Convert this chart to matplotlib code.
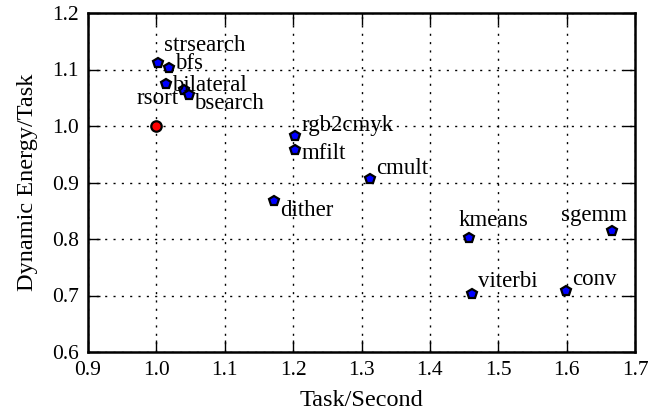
import matplotlib
matplotlib.use("Agg")
import matplotlib.pyplot as plt

plt.rcParams['font.family'] = ['Liberation Serif', 'DejaVu Serif']

# data
names = ['strsearch', 'bfs', 'bilateral', '', 'bsearch', 'rgb2cmyk', 'mfilt',
         'cmult', 'dither', 'kmeans', 'viterbi', 'conv', 'sgemm']
task_per_sec = [1.003, 1.019, 1.014, 1.040, 1.047, 1.203, 1.203,
                1.313, 1.172, 1.457, 1.461, 1.599, 1.667]
energy_per_task = [1.111, 1.102, 1.074, 1.063, 1.054, 0.982, 0.957,
                   0.907, 0.868, 0.802, 0.703, 0.708, 0.814]
base_name = 'rsort'
base_x = [1.0]
base_y = [1.0]

xticks = [0.9, 1.0, 1.1, 1.2, 1.3, 1.4, 1.5, 1.6, 1.7]
yticks = [0.6, 0.7, 0.8, 0.9, 1.0, 1.1, 1.2]

# label offsets in pixels (dx, dy up)
label_offsets = {
    'strsearch': (6, 18), 'bfs': (6, 5), 'bilateral': (6, -1), '': (0, 0),
    'bsearch': (6, -8), 'rgb2cmyk': (6, 11), 'mfilt': (6, -3),
    'cmult': (6, 10), 'dither': (6, -10), 'kmeans': (-10, 17),
    'viterbi': (6, 12), 'conv': (6, 11), 'sgemm': (-51, 16),
}
base_offset = (-20, 27)

fig = plt.figure(figsize=(6.7, 4.16), dpi=100)
ax = fig.add_axes([88/670, 1-352/416, (635-88)/670, (352-13)/416])

ax.grid(True, color='black', linestyle=(0, (1.5, 4.5)), linewidth=1.0)
ax.set_axisbelow(True)

ax.plot(task_per_sec, energy_per_task, linestyle='none', marker='p',
        markersize=7.5, markerfacecolor='#0000ff', markeredgecolor='black',
        markeredgewidth=1.6, zorder=3)
ax.plot(base_x, base_y, linestyle='none', marker='o', markersize=7.5,
        markerfacecolor='#ff0000', markeredgecolor='black',
        markeredgewidth=1.6, zorder=3)

for n, x, y in zip(names, task_per_sec, energy_per_task):
    if n:
        dx, dy = label_offsets[n]
        ax.annotate(n, (x, y), xytext=(dx, dy), textcoords='offset pixels',
                    ha='left', va='center', fontsize=16.5, zorder=4)
ax.annotate(base_name, (base_x[0], base_y[0]), xytext=base_offset,
            textcoords='offset pixels', ha='left', va='center',
            fontsize=16.5, zorder=4)

ax.set_xlim(0.9, 1.7)
ax.set_ylim(0.6, 1.2)
ax.set_xticks(xticks)
ax.set_yticks(yticks)
ax.set_xticklabels([f'{v:.1f}' for v in xticks])
ax.set_yticklabels([f'{v:.1f}' for v in yticks])
ax.tick_params(direction='in', length=8.5, width=1, labelsize=15.5,
               top=True, right=True, pad=6.5)
for s in ax.spines.values():
    s.set_linewidth(1.8)

ax.set_xlabel('Task/Second', fontsize=17.5, labelpad=7)
ax.set_ylabel('Dynamic Energy/Task', fontsize=17.5, labelpad=10)

fig.savefig('out.png', dpi=100)
